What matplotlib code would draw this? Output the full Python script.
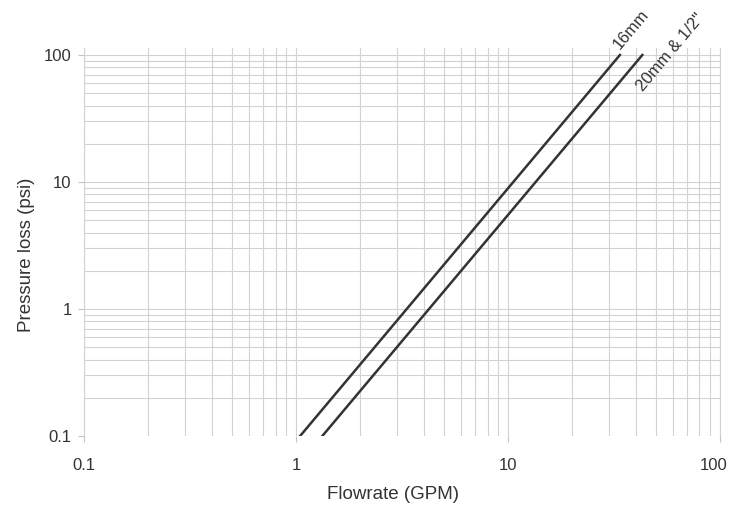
import matplotlib.pyplot as plt
from matplotlib.ticker import FixedLocator, LogLocator, NullFormatter
from matplotlib.transforms import ScaledTranslation

plt.rcParams['font.family'] = ['Liberation Sans', 'DejaVu Sans']

# each line is drawn from y=0.1 to y=100
flow_16mm = [1.045, 33.7]
flow_20mm = [1.33, 43.0]
pressure = [0.1, 100]
labels = ["16mm", "20mm & 1/2\""]
major_ticks = [0.1, 1, 10, 100]
tick_labels = ["0.1", "1", "10", "100"]

fig = plt.figure(figsize=(7.31, 5.08), dpi=100)
ax = fig.add_axes([0.115, 0.1417, 0.87, 0.7638])

ax.plot(flow_16mm, pressure, color='#333333', lw=1.8, zorder=3)
ax.plot(flow_20mm, pressure, color='#333333', lw=1.8, zorder=3)

ax.set_xscale('log')
ax.set_yscale('log')
ax.set_xlim(0.1, 100)
ax.set_ylim(0.1, 113.5)

ax.xaxis.set_major_locator(FixedLocator(major_ticks))
ax.yaxis.set_major_locator(FixedLocator(major_ticks))
ax.set_xticklabels(tick_labels)
ax.set_yticklabels(tick_labels)
for a in (ax.xaxis, ax.yaxis):
    a.set_minor_locator(LogLocator(base=10, subs=range(2, 10)))
    a.set_minor_formatter(NullFormatter())

ax.grid(True, which='both', color='#d2d2d2', lw=0.8)
ax.tick_params(which='major', length=4, color='#c4c4c4', labelsize=12,
               labelcolor='#333333', pad=5)
ax.tick_params(axis='x', pad=12)
ax.tick_params(which='minor', length=0)

# last x label sits a little left of its tick, as in the original
last = ax.get_xticklabels()[-1]
last.set_transform(last.get_transform() + ScaledTranslation(-6 / 100, 0, fig.dpi_scale_trans))

for side in ['top', 'bottom']:
    ax.spines[side].set_visible(False)
for side in ['left', 'right']:
    ax.spines[side].set_color('#d2d2d2')
    ax.spines[side].set_linewidth(0.8)
ax.set_axisbelow(True)

ax.set_xlabel("Flowrate (GPM)", fontsize=13.5, color='#333333')
ax.set_ylabel("Pressure loss (psi)", fontsize=13.5, color='#333333')
ax.xaxis.set_label_coords(0.486, -0.128)
ax.yaxis.set_label_coords(-0.077, 0.466)

# labels follow the lines
ax.text(33.5, 109, labels[0], rotation=50, fontsize=12,
        color='#333333', ha='left', va='baseline', rotation_mode='anchor',
        clip_on=False)
ax.text(43.5, 51, labels[1], rotation=50, fontsize=12,
        color='#333333', ha='left', va='baseline', rotation_mode='anchor',
        clip_on=False)

fig.savefig("out.png", dpi=100)
